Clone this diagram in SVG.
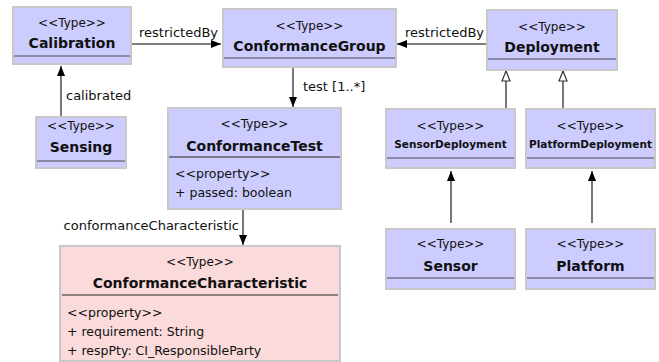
<svg xmlns="http://www.w3.org/2000/svg" width="659" height="362" viewBox="0 0 659 362">
  <defs>
    <marker id="arrow" viewBox="0 0 10 10" refX="10" refY="5" markerWidth="10" markerHeight="10" markerUnits="userSpaceOnUse" orient="auto">
      <path d="M0,1 L10,5 L0,9 Z" fill="#000"/>
    </marker>
    <marker id="gen" viewBox="0 0 12 12" refX="11" refY="6" markerWidth="12" markerHeight="12" markerUnits="userSpaceOnUse" orient="auto">
      <path d="M1,2 L11,6 L1,10 Z" fill="#fff" stroke="#333" stroke-width="1.2"/>
    </marker>
  </defs>
  <style>
    .box { fill: #ccccff; stroke: #c8c8c8; stroke-width: 2; }
    .pink { fill: #fadada; stroke: #c8c8c8; stroke-width: 2; }
    .sep { stroke: #8a8aa8; stroke-width: 2; }
    .sep2 { stroke: #222; stroke-width: 1; }
    text { font-family: "DejaVu Sans", Verdana, sans-serif; fill: #111; }
    .st { font-size: 12px; text-anchor: middle; }
    .nm { font-size: 14px; font-weight: bold; text-anchor: middle; }
    .nms { font-size: 10.5px; font-weight: bold; text-anchor: middle; }
    .at { font-size: 12.5px; }
    .lb { font-size: 13px; }
    .edge { fill: none; stroke: #555; stroke-width: 1.6; }
  </style>

  <!-- connectors -->
  <g id="connectors">
    <line class="edge" x1="132" y1="44" x2="221" y2="44" marker-end="url(#arrow)"/>
    <text class="lb" x="139" y="37">restrictedBy</text>
    <line class="edge" x1="486" y1="44" x2="397" y2="44" marker-end="url(#arrow)"/>
    <text class="lb" x="405" y="37">restrictedBy</text>
    <line class="edge" x1="61" y1="116" x2="61" y2="66" marker-end="url(#arrow)"/>
    <text class="lb" x="66" y="100">calibrated</text>
    <line class="edge" x1="293" y1="68" x2="293" y2="107" marker-end="url(#arrow)"/>
    <text class="lb" x="303" y="91">test [1..*]</text>
    <line class="edge" x1="243" y1="210" x2="243" y2="245" marker-end="url(#arrow)"/>
    <text class="lb" x="239" y="230" text-anchor="end">conformanceCharacteristic</text>
    <line class="edge" x1="506" y1="108" x2="506" y2="71" marker-end="url(#gen)"/>
    <line class="edge" x1="563" y1="108" x2="563" y2="71" marker-end="url(#gen)"/>
    <line class="edge" x1="451" y1="223" x2="451" y2="171" marker-end="url(#arrow)"/>
    <line class="edge" x1="592" y1="223" x2="592" y2="171" marker-end="url(#arrow)"/>
  </g>

  <g id="Calibration">
    <rect class="box" x="13" y="7" width="118" height="57"/>
    <line class="sep" x1="14" y1="56" x2="130" y2="56"/>
    <text class="st" x="72" y="27">&lt;&lt;Type&gt;&gt;</text>
    <text class="nm" x="72" y="48">Calibration</text>
  </g>

  <g id="ConformanceGroup">
    <rect class="box" x="223" y="9" width="173" height="58"/>
    <line class="sep" x1="224" y1="58" x2="395" y2="58"/>
    <text class="st" x="309.5" y="30">&lt;&lt;Type&gt;&gt;</text>
    <text class="nm" x="309.5" y="51">ConformanceGroup</text>
  </g>

  <g id="Deployment">
    <rect class="box" x="487" y="10" width="130" height="60"/>
    <line class="sep" x1="488" y1="59" x2="616" y2="59"/>
    <text class="st" x="552" y="31">&lt;&lt;Type&gt;&gt;</text>
    <text class="nm" x="552" y="52">Deployment</text>
  </g>

  <g id="Sensing">
    <rect class="box" x="36" y="117" width="90" height="51"/>
    <line class="sep" x1="37" y1="161" x2="125" y2="161"/>
    <text class="st" x="81" y="130">&lt;&lt;Type&gt;&gt;</text>
    <text class="nm" x="81" y="152">Sensing</text>
  </g>

  <g id="ConformanceTest">
    <rect class="box" x="168" y="108" width="173" height="101"/>
    <line class="sep2" x1="169" y1="157" x2="340" y2="157"/>
    <text class="st" x="254.5" y="128">&lt;&lt;Type&gt;&gt;</text>
    <text class="nm" x="254.5" y="151">ConformanceTest</text>
    <text class="at" x="175" y="178">&lt;&lt;property&gt;&gt;</text>
    <text class="at" x="175" y="197">+ passed: boolean</text>
  </g>

  <g id="SensorDeployment">
    <rect class="box" x="386" y="109" width="129" height="59"/>
    <line class="sep" x1="387" y1="158" x2="514" y2="158"/>
    <text class="st" x="450.5" y="130">&lt;&lt;Type&gt;&gt;</text>
    <text class="nms" x="450.5" y="148">SensorDeployment</text>
  </g>

  <g id="PlatformDeployment">
    <rect class="box" x="526" y="109" width="129" height="59"/>
    <line class="sep" x1="527" y1="158" x2="654" y2="158"/>
    <text class="st" x="590.5" y="130">&lt;&lt;Type&gt;&gt;</text>
    <text class="nms" x="590.5" y="148">PlatformDeployment</text>
  </g>

  <g id="ConformanceCharacteristic">
    <rect class="pink" x="60" y="246" width="280" height="115"/>
    <line class="sep2" x1="62" y1="295" x2="338" y2="295"/>
    <text class="st" x="200" y="266">&lt;&lt;Type&gt;&gt;</text>
    <text class="nm" x="200" y="288">ConformanceCharacteristic</text>
    <text class="at" x="67" y="317">&lt;&lt;property&gt;&gt;</text>
    <text class="at" x="67" y="336">+ requirement: String</text>
    <text class="at" x="67" y="355">+ respPty: CI_ResponsibleParty</text>
  </g>

  <g id="Sensor">
    <rect class="box" x="386" y="229" width="129" height="60"/>
    <line class="sep" x1="387" y1="278" x2="514" y2="278"/>
    <text class="st" x="450.5" y="248">&lt;&lt;Type&gt;&gt;</text>
    <text class="nm" x="450.5" y="271">Sensor</text>
  </g>

  <g id="Platform">
    <rect class="box" x="526" y="229" width="129" height="60"/>
    <line class="sep" x1="527" y1="278" x2="654" y2="278"/>
    <text class="st" x="590.5" y="248">&lt;&lt;Type&gt;&gt;</text>
    <text class="nm" x="590.5" y="271">Platform</text>
  </g>
</svg>
